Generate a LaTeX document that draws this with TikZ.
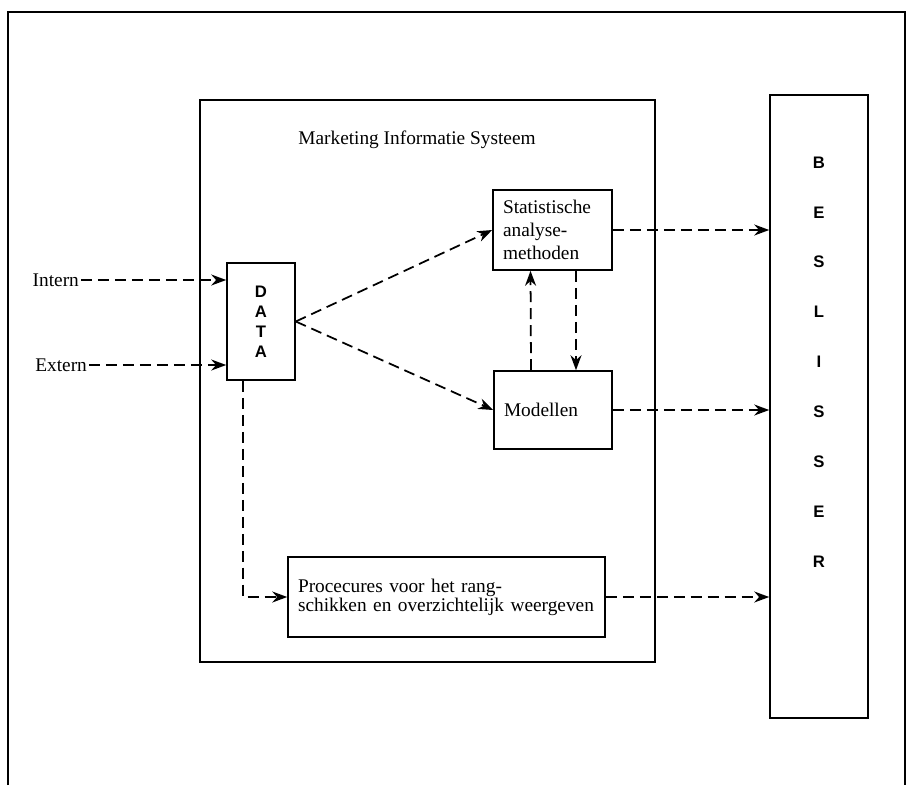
\documentclass[tikz,border=0pt]{standalone}
\usepackage{fontspec}
\setmainfont{Liberation Serif}
\newfontfamily\letterfont{Liberation Sans}
\usetikzlibrary{arrows.meta}

\begin{document}
\begin{tikzpicture}[x=0.02cm,y=-0.02cm,
box/.style={draw,line width=0.9pt,inner sep=0pt},
txtbox/.style={box,inner xsep=0.2cm,align=left},
flow/.style={line width=1pt,dash pattern=on 0.22cm off 0.12cm,-{Stealth[length=0.3cm,width=0.22cm]}},
every node/.style={font=\fontsize{11}{13}\selectfont}]
\useasboundingbox (0,0) rectangle (916,785);
% outer frame, open at the bottom
\draw[line width=1.3pt] (8,785) -- (8,12) -- (905,12) -- (905,785);
\node[box,minimum width=9.1cm,minimum height=11.24cm] (mis) at (427.5,381) {};
\node (title) at (417,140) {Marketing Informatie Systeem};
\node[box,minimum width=1.36cm,minimum height=2.34cm,align=center,
  font=\letterfont\bfseries\fontsize{9.5}{11.4}\selectfont] (data) at (261,321.5) {D\\A\\T\\A};
\node[txtbox,text width=1.98cm,minimum height=1.6cm] (stat) at (552.5,230)
  {Statistische\\analyse-\\methoden};
\node[txtbox,text width=1.96cm,minimum height=1.56cm] (modellen) at (553,410) {Modellen};
\node[txtbox,text width=5.94cm,minimum height=1.6cm,font=\fontsize{11}{10.8}\selectfont] (proc) at (446.5,597)
  {Procecures voor het rang-\\schikken en overzichtelijk weergeven};
\node[box,minimum width=1.96cm,minimum height=12.46cm] (besl) at (819,406.5) {};
\node[align=center,font=\letterfont\bfseries\fontsize{9.5}{28.4}\selectfont] (beslText) at (819,362)
  {B\\E\\S\\L\\I\\S\\S\\E\\R};
\node[anchor=east,inner sep=1pt] (intern) at (81,280) {Intern};
\node[anchor=east,inner sep=1pt] (extern) at (89,365) {Extern};
% connectors
\draw[flow] (intern.east) -- (intern.east -| data.west);
\draw[flow] (extern.east) -- (extern.east -| data.west);
\draw[flow] (data.east) -- (stat.west);
\draw[flow] (data.east) -- (modellen.west);
\draw[flow] ([xshift=-0.44cm]modellen.north) -- ([xshift=-0.44cm]stat.south);
\draw[flow] ([xshift=0.47cm]stat.south) -- ([xshift=0.47cm]stat.south |- modellen.north);
\draw[flow] ([xshift=-0.36cm]data.south) |- (proc.west);
\draw[flow] (stat.east) -- (stat.east -| besl.west);
\draw[flow] (modellen.east) -- (modellen.east -| besl.west);
\draw[flow] (proc.east) -- (proc.east -| besl.west);
\end{tikzpicture}
\end{document}
